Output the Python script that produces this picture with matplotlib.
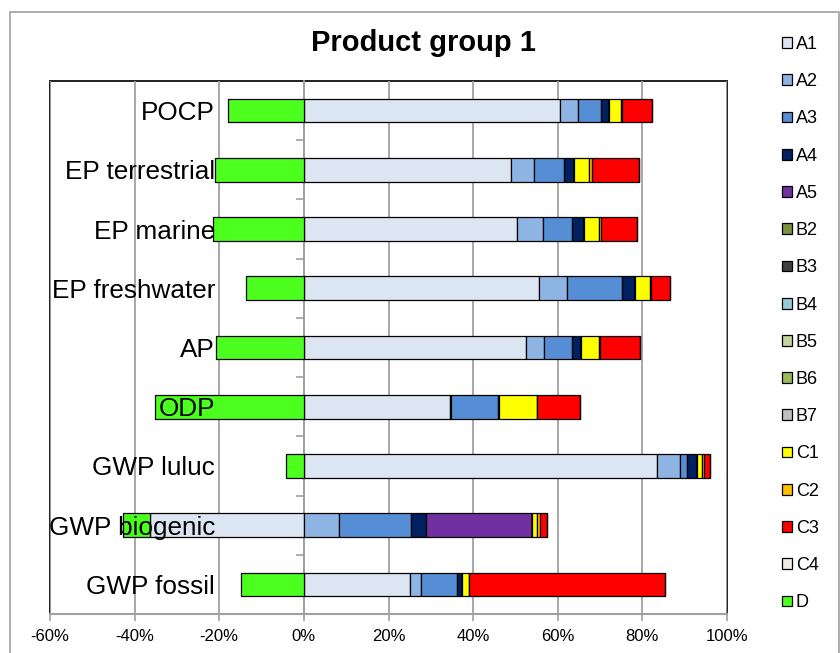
import numpy as np
import matplotlib
matplotlib.use("Agg")
import matplotlib.pyplot as plt
from matplotlib.patches import Rectangle
from matplotlib.ticker import FixedLocator, FuncFormatter

plt.rcParams['font.family'] = ['Liberation Sans', 'DejaVu Sans']

# impact categories, top to bottom
categories = ['POCP', 'EP terrestrial', 'EP marine', 'EP freshwater', 'AP',
              'ODP', 'GWP luluc', 'GWP biogenic', 'GWP fossil']

# share of each life-cycle module per category (%)
A1 = [60.6, 48.9, 50.3, 55.5, 52.5, 34.6, 83.4, -36.4, 25.1]
A2 = [4.2, 5.6, 6.3, 6.7, 4.2, 0.2, 5.4, 8.4, 2.5]
A3 = [5.4, 6.9, 6.8, 13.1, 6.7, 11.1, 1.8, 16.8, 8.5]
A4 = [1.9, 2.5, 2.9, 3.0, 2.1, 0.1, 2.3, 3.7, 1.2]
A5 = [0, 0, 0, 0, 0, 0, 0, 25.1, 0]
B2 = [0, 0, 0, 0, 0, 0, 0, 0, 0]
B3 = [0, 0, 0, 0, 0, 0, 0, 0, 0]
B4 = [0, 0, 0, 0, 0, 0, 0, 0, 0]
B5 = [0, 0, 0, 0, 0, 0, 0, 0, 0]
B6 = [0, 0, 0, 0, 0, 0, 0, 0, 0]
B7 = [0, 0, 0, 0, 0, 0, 0, 0, 0]
C1 = [2.8, 3.6, 3.5, 3.4, 4.2, 9.1, 1.2, 1.2, 1.7]
C2 = [0.4, 0.5, 0.5, 0.4, 0.3, 0.1, 0.4, 0.6, 0.1]
C3 = [7.0, 11.3, 8.5, 4.5, 9.4, 10.0, 1.4, 1.6, 46.3]
C4 = [0, 0, 0, 0, 0, 0, 0, 0, 0]
D = [-17.9, -20.9, -21.4, -13.6, -20.7, -35.2, -4.3, -6.4, -14.8]

modules = ['A1', 'A2', 'A3', 'A4', 'A5', 'B2', 'B3', 'B4', 'B5', 'B6', 'B7',
           'C1', 'C2', 'C3', 'C4', 'D']
values = [A1, A2, A3, A4, A5, B2, B3, B4, B5, B6, B7, C1, C2, C3, C4, D]
colors = ['#dce6f2', '#8eb4e3', '#558ed5', '#002060', '#7030a0', '#77933c',
          '#404040', '#93cddd', '#c3d69b', '#9bbb59', '#bfbfbf', '#ffff00',
          '#ffc000', '#ff0000', '#eeece1', '#4cff1f']

fig = plt.figure(figsize=(8.4, 6.53), dpi=100)
ax = fig.add_axes([50 / 840, 1 - 614 / 653, 677 / 840, 533 / 653])

y = np.arange(len(categories))
pos = np.zeros(len(categories))
neg = np.zeros(len(categories))
handles = []
for name, vals, col in zip(modules, values, colors):
    v = np.array(vals, dtype=float)
    left = np.where(v >= 0, pos, neg)
    bars = ax.barh(y, v, left=left, height=0.4, color=col,
                   edgecolor='black', linewidth=0.9, label=name, zorder=1)
    handles.append(bars)
    pos += np.where(v > 0, v, 0)
    neg += np.where(v < 0, v, 0)

ax.set_xlim(-60, 100)
ax.set_ylim(len(categories) - 0.5, -0.5)

grey = '#a0a0a0'
ax.set_xticks(np.arange(-60, 101, 20))
ax.xaxis.set_major_formatter(FuncFormatter(lambda v, p: f'{v:.0f}%'))
ax.tick_params(axis='x', length=5, width=1.2, color=grey, pad=6,
               labelsize=12)
ax.xaxis.grid(True, color=grey, linewidth=1.3)
ax.xaxis.set_zorder(0.5)

# category axis sits on the 0% line
ax.spines['left'].set_position(('data', 0))
ax.spines['left'].set_color(grey)
ax.spines['left'].set_linewidth(1.3)
ax.spines['left'].set_zorder(0.6)
ax.set_yticks(y)
ax.set_yticklabels(categories)
ax.yaxis.set_minor_locator(FixedLocator(np.arange(len(categories) - 1) + 0.5))
ax.tick_params(axis='y', which='major', length=0, pad=64, labelsize=18.8)
ax.tick_params(axis='y', which='minor', length=6, width=1.2, color=grey)
ax.yaxis.set_zorder(3)

for s in ['top', 'right']:
    ax.spines[s].set_visible(False)
ax.spines['bottom'].set_color(grey)
ax.spines['bottom'].set_linewidth(1.5)
ax.add_patch(Rectangle((0, 0), 1, 1, transform=ax.transAxes, fill=False,
                       edgecolor='#202020', linewidth=1.4, clip_on=False,
                       zorder=0.4))

# outer chart border
fig.patches.append(Rectangle((10 / 840, -0.1), 829 / 840, 1.1 - 12 / 653,
                             transform=fig.transFigure, fill=False,
                             edgecolor='#a0a0a0', linewidth=1.2))

fig.text(423 / 840, 1 - 51 / 653, 'Product group 1', ha='center',
         va='baseline', fontsize=21, fontweight='bold')

fig.legend(handles=handles, labels=modules, loc='upper left',
           bbox_to_anchor=(782 / 840, 1 - 36 / 653), frameon=False,
           fontsize=13, handlelength=0.55, handleheight=0.55,
           handletextpad=0.22, labelspacing=1.12, borderpad=0,
           borderaxespad=0)

fig.savefig('out.png', dpi=100)
